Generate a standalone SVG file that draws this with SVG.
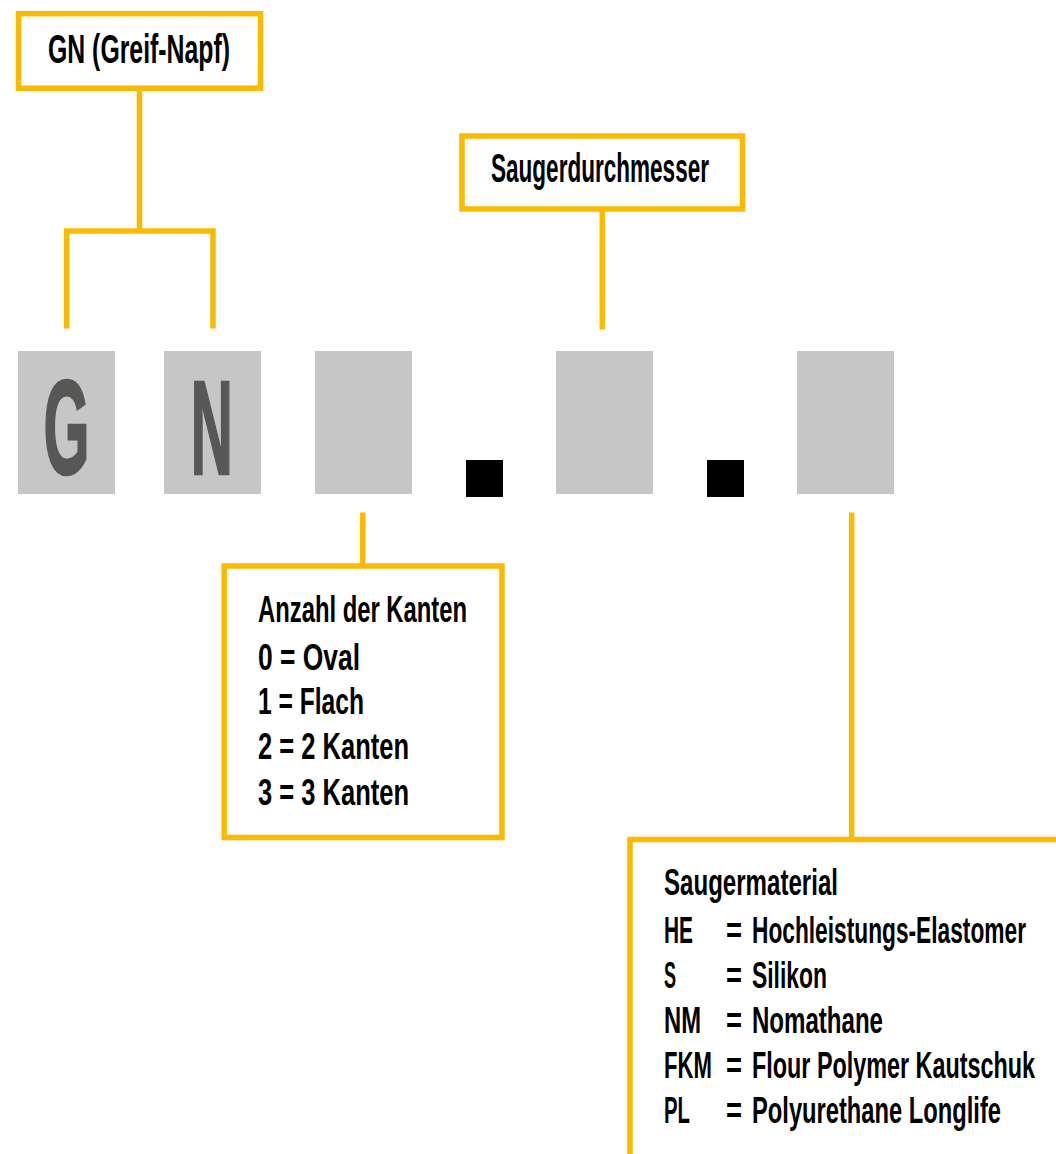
<svg xmlns="http://www.w3.org/2000/svg" width="1056" height="1154" viewBox="0 0 1056 1154">
<style>
.box{fill:#fff;stroke:#fbb900;stroke-width:5.5}
.open{fill:none;stroke:#fbb900;stroke-width:5.5}
.con{fill:none;stroke:#fbb900;stroke-width:5.5;stroke-linecap:butt}
.cell{fill:#c6c6c6}
.dot{fill:#000}
.t{font-family:"Liberation Sans","DejaVu Sans",sans-serif;font-weight:bold;fill:#000}
.big{font-family:"Liberation Sans","DejaVu Sans",sans-serif;font-weight:bold;fill:#575756;stroke:#575756;stroke-width:2.5;font-size:134px}
</style>
<rect width="1056" height="1154" fill="#fff"/>
<g id="connectors">
<path class="con" d="M139.5 88 V231 M66.7 328.5 V231 H213 V328.5"/>
<path class="con" d="M602.3 209 V329.5"/>
<path class="con" d="M362.8 512.5 V566"/>
<path class="con" d="M851.7 512.5 V840"/>
</g>
<g id="label-gn">
<rect class="box" x="18.5" y="13.7" width="242" height="74.5"/>
<text class="t" font-size="40" transform="matrix(0.62,0,0,1,48,63)" textLength="293.5" lengthAdjust="spacingAndGlyphs">GN (Greif-Napf)</text>
</g>
<g id="label-durchmesser">
<rect class="box" x="462" y="136" width="280.5" height="73"/>
<text class="t" font-size="40" transform="matrix(0.62,0,0,1,491,182)" textLength="351.6" lengthAdjust="spacingAndGlyphs">Saugerdurchmesser</text>
</g>
<g id="cell-g">
<rect class="cell" x="18" y="351" width="97" height="143"/>
<text class="big" text-anchor="middle" transform="matrix(0.44,0,0,1,66.5,474)" textLength="104.5" lengthAdjust="spacingAndGlyphs">G</text>
</g>
<g id="cell-n">
<rect class="cell" x="164" y="351" width="97" height="143"/>
<text class="big" text-anchor="middle" transform="matrix(0.44,0,0,1,211.7,474)" textLength="95.5" lengthAdjust="spacingAndGlyphs">N</text>
</g>
<g id="cell-kanten"><rect class="cell" x="315" y="351" width="97" height="143"/></g>
<g id="dot-1"><rect class="dot" x="466" y="460" width="37" height="37"/></g>
<g id="cell-durchmesser"><rect class="cell" x="556" y="351" width="97" height="143"/></g>
<g id="dot-2"><rect class="dot" x="707" y="460" width="37" height="37"/></g>
<g id="cell-material"><rect class="cell" x="797" y="351" width="97" height="143"/></g>
<g id="label-kanten">
<rect class="box" x="224.2" y="566" width="277.8" height="271.5"/>
<g class="t" font-size="36">
<text transform="matrix(0.62,0,0,1,258,622)" textLength="337.1" lengthAdjust="spacingAndGlyphs">Anzahl der Kanten</text>
<text transform="matrix(0.62,0,0,1,258,670)" textLength="164.5" lengthAdjust="spacingAndGlyphs">0 = Oval</text>
<text transform="matrix(0.62,0,0,1,258,714)" textLength="171" lengthAdjust="spacingAndGlyphs">1 = Flach</text>
<text transform="matrix(0.62,0,0,1,258,759)" textLength="243.5" lengthAdjust="spacingAndGlyphs">2 = 2 Kanten</text>
<text transform="matrix(0.62,0,0,1,258,805)" textLength="243.5" lengthAdjust="spacingAndGlyphs">3 = 3 Kanten</text>
</g>
</g>
<g id="label-material">
<rect x="630" y="839.5" width="426" height="315" fill="#fff"/>
<path class="open" d="M1056 839.5 H630 V1154"/>
<g class="t" font-size="37">
<text transform="matrix(0.62,0,0,1,664,895)" textLength="280.6" lengthAdjust="spacingAndGlyphs">Saugermaterial</text>
<text transform="matrix(0.62,0,0,1,664,943)" textLength="46.8" lengthAdjust="spacingAndGlyphs">HE</text>
<text transform="matrix(0.62,0,0,1,726,943)" textLength="25.8" lengthAdjust="spacingAndGlyphs">=</text>
<text transform="matrix(0.62,0,0,1,752,943)" textLength="441.9" lengthAdjust="spacingAndGlyphs">Hochleistungs-Elastomer</text>
<text transform="matrix(0.62,0,0,1,664,988)" textLength="19.4" lengthAdjust="spacingAndGlyphs">S</text>
<text transform="matrix(0.62,0,0,1,726,988)" textLength="25.8" lengthAdjust="spacingAndGlyphs">=</text>
<text transform="matrix(0.62,0,0,1,752,988)" textLength="121" lengthAdjust="spacingAndGlyphs">Silikon</text>
<text transform="matrix(0.62,0,0,1,664,1033)" textLength="59.7" lengthAdjust="spacingAndGlyphs">NM</text>
<text transform="matrix(0.62,0,0,1,726,1033)" textLength="25.8" lengthAdjust="spacingAndGlyphs">=</text>
<text transform="matrix(0.62,0,0,1,752,1033)" textLength="211.3" lengthAdjust="spacingAndGlyphs">Nomathane</text>
<text transform="matrix(0.62,0,0,1,664,1078)" textLength="77.4" lengthAdjust="spacingAndGlyphs">FKM</text>
<text transform="matrix(0.62,0,0,1,726,1078)" textLength="25.8" lengthAdjust="spacingAndGlyphs">=</text>
<text transform="matrix(0.62,0,0,1,752,1078)" textLength="456.5" lengthAdjust="spacingAndGlyphs">Flour Polymer Kautschuk</text>
<text transform="matrix(0.62,0,0,1,664,1123)" textLength="41.9" lengthAdjust="spacingAndGlyphs">PL</text>
<text transform="matrix(0.62,0,0,1,726,1123)" textLength="25.8" lengthAdjust="spacingAndGlyphs">=</text>
<text transform="matrix(0.62,0,0,1,752,1123)" textLength="401.6" lengthAdjust="spacingAndGlyphs">Polyurethane Longlife</text>
</g>
</g>
</svg>
